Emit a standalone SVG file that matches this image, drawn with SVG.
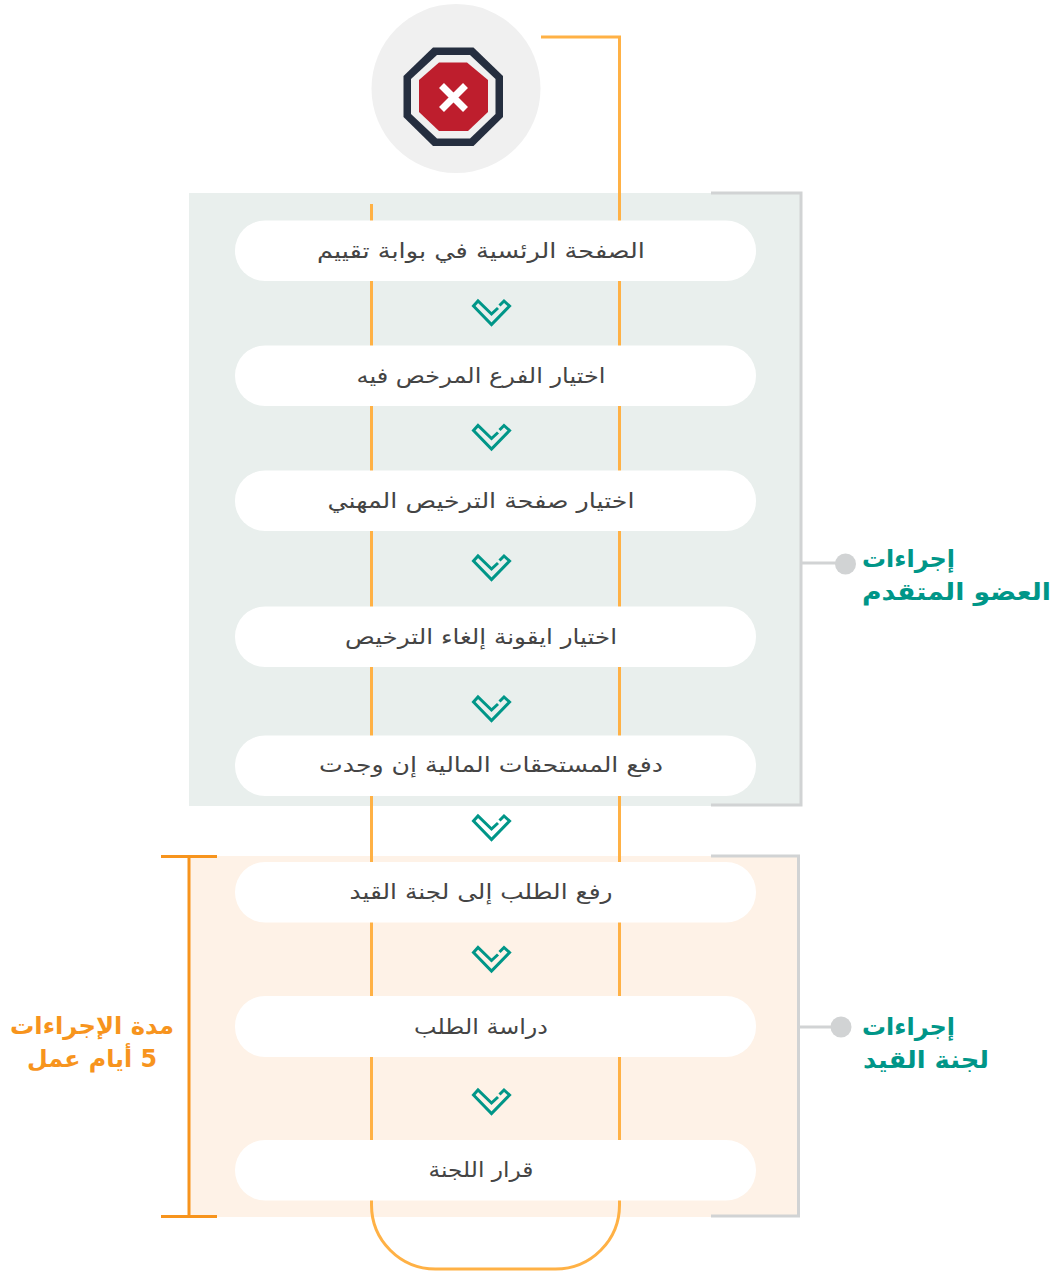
<svg xmlns="http://www.w3.org/2000/svg" width="1061" height="1271" viewBox="0 0 1061 1271">
<style>
.pill{fill:#fff}
.step{font-family:"DejaVu Sans","Noto Sans",sans-serif;font-size:21px;fill:#444;text-anchor:middle;direction:rtl}
.teal{font-family:"DejaVu Sans",sans-serif;font-size:24px;font-weight:700;fill:#009688;direction:rtl}
.or{font-family:"DejaVu Sans",sans-serif;font-size:24px;font-weight:700;fill:#f7941d;text-anchor:middle;direction:rtl}
.o{fill:none;stroke:#ffb145;stroke-width:3}
.g{fill:none;stroke:#d1d3d4;stroke-width:3}
.b{fill:none;stroke:#f7941d;stroke-width:3}
.c{fill:none;stroke:#009688;stroke-width:3}
</style>
<defs>
<path id="ch" class="c" d="M6.500 -5L0 1L-13.500 -12L-18 -7L0 11.500L18 -7L12.500 -12L8 -7.500"/>
</defs>
<rect x="189" y="193" width="612" height="613" fill="#e9efed"/>
<rect x="189" y="856" width="609" height="361" fill="#fef2e7"/>
<g id="connectors">
<path class="o" d="M541 37H619.500V1205A64 64 0 0 1 555.500 1269H435.500A64 64 0 0 1 371.500 1205V204"/>
<path class="g" d="M711 193H801V805H711"/>
<path class="g" d="M711 856H798.500V1216H711"/>
<path class="g" d="M801 563H845"/>
<path class="g" d="M798 1027H841"/>
<path class="b" d="M161 856.500H217M189 857V1216M161 1216.500H217"/>
<use href="#ch" x="491.500" y="313"/>
<use href="#ch" x="491.500" y="437.500"/>
<use href="#ch" x="491.500" y="568"/>
<use href="#ch" x="491.500" y="709"/>
<use href="#ch" x="491.500" y="828"/>
<use href="#ch" x="491.500" y="959.500"/>
<use href="#ch" x="491.500" y="1102"/>
</g>
<g id="stop-icon">
<circle cx="456" cy="88.500" r="84.500" fill="#f0f0f0"/>
<polygon points="433,47.500 473.500,47.500 503,76 503,117 473.500,146 433,146 403.500,117 403.500,76" fill="#252e3f"/>
<polygon points="437,55 470,55 495.500,79 495.500,114 470,138.500 437,138.500 411,114 411,79" fill="#f0f0f0"/>
<polygon points="439,62.500 467,62.500 488,80 488,112 468,131 439,131 419,112 419,80" fill="#be1e2d"/>
<path d="M441.500 85.500L465.500 109.500M465.500 85.500L441.500 109.500" fill="none" stroke="#fff" stroke-width="7"/>
</g>
<g id="step-1"><rect class="pill" x="235" y="220.500" width="521" height="60.500" rx="30"/><text class="step" x="481" y="258" textLength="328" lengthAdjust="spacingAndGlyphs">الصفحة الرئسية في بوابة تقييم</text></g>
<g id="step-2"><rect class="pill" x="235" y="345.500" width="521" height="60.500" rx="30"/><text class="step" x="481" y="383" textLength="249" lengthAdjust="spacingAndGlyphs">اختيار الفرع المرخص فيه</text></g>
<g id="step-3"><rect class="pill" x="235" y="470.500" width="521" height="60.500" rx="30"/><text class="step" x="481" y="508" textLength="307" lengthAdjust="spacingAndGlyphs">اختيار صفحة الترخيص المهني</text></g>
<g id="step-4"><rect class="pill" x="235" y="606.500" width="521" height="60.500" rx="30"/><text class="step" x="481" y="644" textLength="272" lengthAdjust="spacingAndGlyphs">اختيار ايقونة إلغاء الترخيص</text></g>
<g id="step-5"><rect class="pill" x="235" y="735.500" width="521" height="60.500" rx="30"/><text class="step" x="491" y="772" textLength="344" lengthAdjust="spacingAndGlyphs">دفع المستحقات المالية إن وجدت</text></g>
<g id="step-6"><rect class="pill" x="235" y="862" width="521" height="60.500" rx="30"/><text class="step" x="481" y="899" textLength="263" lengthAdjust="spacingAndGlyphs">رفع الطلب إلى لجنة القيد</text></g>
<g id="step-7"><rect class="pill" x="235" y="996" width="521" height="61" rx="30"/><text class="step" x="481" y="1034" textLength="134" lengthAdjust="spacingAndGlyphs">دراسة الطلب</text></g>
<g id="step-8"><rect class="pill" x="235" y="1140" width="521" height="60.500" rx="30"/><text class="step" x="481" y="1177" textLength="105" lengthAdjust="spacingAndGlyphs">قرار اللجنة</text></g>
<g id="label-member"><circle cx="845.500" cy="564" r="10.500" fill="#d1d3d4"/><text class="teal" x="955" y="567" text-anchor="start" textLength="93" lengthAdjust="spacingAndGlyphs">إجراءات</text><text class="teal" x="1051" y="600" text-anchor="start" textLength="189" lengthAdjust="spacingAndGlyphs">العضو المتقدم</text></g>
<g id="label-committee"><circle cx="841" cy="1027" r="10.500" fill="#d1d3d4"/><text class="teal" x="955" y="1035" text-anchor="start" textLength="93" lengthAdjust="spacingAndGlyphs">إجراءات</text><text class="teal" x="989" y="1068" text-anchor="start" textLength="126" lengthAdjust="spacingAndGlyphs">لجنة القيد</text></g>
<g id="label-duration"><text class="or" x="92" y="1034" textLength="164" lengthAdjust="spacingAndGlyphs">مدة الإجراءات</text><text class="or" x="92" y="1067" textLength="130" lengthAdjust="spacingAndGlyphs">5 أيام عمل</text></g>
</svg>
